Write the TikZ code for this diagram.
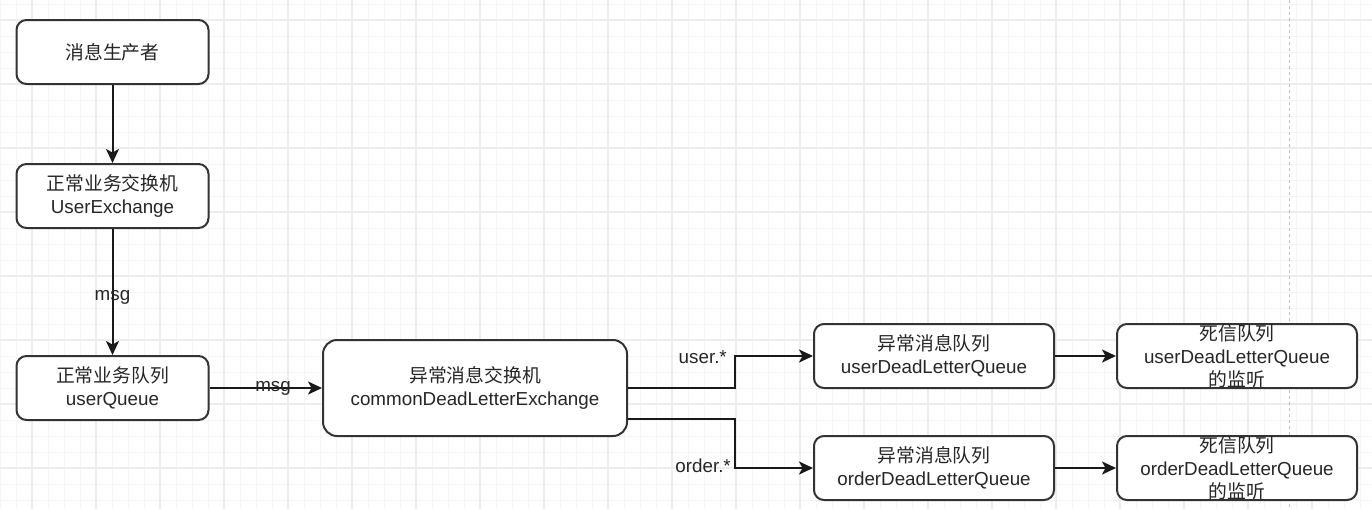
\documentclass[tikz,border=0pt]{standalone}
\usepackage{fontspec}
\setmainfont{Liberation Sans}
\newfontfamily\cjk{Noto Sans CJK SC}
\usepackage{tikz}
\usetikzlibrary{arrows.meta}

\definecolor{gridminor}{HTML}{F5F5F5}
\definecolor{gridmajor}{HTML}{EDEDED}
\definecolor{boxline}{HTML}{333333}

\tikzset{
  box/.style={draw=boxline,line width=2pt,rounded corners=10pt,fill=white,
    minimum width=192pt,minimum height=64pt,align=center,inner sep=0pt,
    text=black!85,font=\fontsize{18.8}{23}\selectfont},
  widebox/.style={box,minimum width=240pt},
  flow/.style={line width=2pt,draw=black!90,-{Stealth[length=14pt,width=13pt,inset=3.5pt]}},
  lbl/.style={inner sep=0pt,text=black!85,font=\fontsize{18.8}{23}\selectfont}
}

\begin{document}
\begin{tikzpicture}[x=1pt,y=-1pt]
\useasboundingbox (0,0) rectangle (1372,509);
% grid
\foreach \gx in {0,16,...,1372} \draw[gridminor,line width=1pt](\gx,0)--(\gx,509);
\foreach \gy in {4,20,...,509} \draw[gridminor,line width=1pt](0,\gy)--(1372,\gy);
\foreach \gx in {32,96,...,1372} \draw[gridmajor,line width=1.2pt](\gx,0)--(\gx,509);
\foreach \gy in {20,84,...,509} \draw[gridmajor,line width=1.2pt](0,\gy)--(1372,\gy);
\draw[black!25,line width=1pt,dash pattern=on 3pt off 3pt](1289,0)--(1289,509);

\node[box] (prod) at (112.5,52) {{\cjk 消息生产者}};
\node[box] (uex) at (112.5,196) {{\cjk 正常业务交换机}\\UserExchange};
\node[box] (uq) at (112.5,388) {{\cjk 正常业务队列}\\userQueue};
\node[box,minimum width=304pt,minimum height=96pt,rounded corners=14pt] (dlx) at (475,388) {{\cjk 异常消息交换机}\\commonDeadLetterExchange};
\node[widebox] (udq) at (934,356) {{\cjk 异常消息队列}\\userDeadLetterQueue};
\node[widebox] (odq) at (934,468) {{\cjk 异常消息队列}\\orderDeadLetterQueue};
\node[widebox] (ul) at (1237,356) {{\cjk 死信队列}\\userDeadLetterQueue\\{\cjk 的监听}};
\node[widebox] (ol) at (1237,468) {{\cjk 死信队列}\\orderDeadLetterQueue\\{\cjk 的监听}};

\coordinate (usplit) at (735,388);
\coordinate (osplit) at (735,419);

\draw[flow](prod)--(uex);
\draw[flow](uex)--node[lbl,pos=0.54]{msg}(uq);
\draw[flow](uq)--node[lbl,pos=0.565]{msg}(dlx);
\draw[flow](dlx.east)--(usplit)|-(udq.west);
\draw[flow]([yshift=-31pt]dlx.east)--(osplit)|-(odq.west);
\node[lbl,anchor=east] (ukey) at (727,357) {user.*};
\node[lbl,anchor=east] (okey) at (731,466) {order.*};
\draw[flow](udq)--(ul);
\draw[flow](odq)--(ol);
\end{tikzpicture}
\end{document}
